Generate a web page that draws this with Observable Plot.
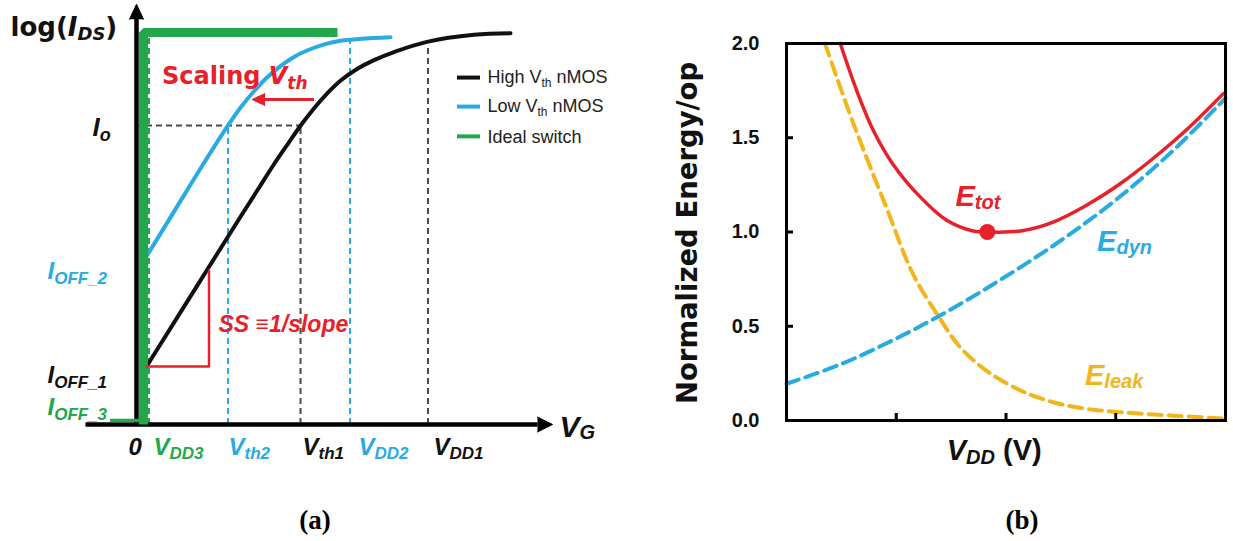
<!DOCTYPE html>
<html><head><meta charset="utf-8">
<script src="https://cdn.jsdelivr.net/npm/d3@7"></script>
<script src="https://cdn.jsdelivr.net/npm/@observablehq/plot@0.6"></script>
<style>
html,body{margin:0;padding:0;background:#fff;}
#wrap{position:relative;width:1233px;height:541px;overflow:hidden;background:#fff;}
#a{position:absolute;left:0;top:0;}
#b{position:absolute;left:620px;top:0;}
.cap{position:absolute;top:507px;font-family:"Liberation Serif","Times New Roman",serif;font-weight:bold;font-size:27px;line-height:27px;transform:translateX(-50%);color:#000;}
</style></head><body>
<div id="wrap"><div id="a"></div><div id="b"></div>
<div class="cap" style="left:315px">(a)</div><div class="cap" style="left:1022px">(b)</div></div>
<script>
// ---------- Panel (a): log(I_DS) vs V_G (schematic units) ----------
const highVthVG   = [0.07, 0.61, 1.27, 1.94, 2.30, 2.60, 2.90, 3.14, 3.40, 3.67, 3.95, 4.27, 4.60, 5.01, 5.67, 6.61, 7.34];
const highVthLogI = [1.50, 2.60, 3.94, 5.30, 6.02, 6.62, 7.18, 7.62, 8.05, 8.44, 8.78, 9.07, 9.29, 9.50, 9.76, 9.94, 9.98];
const lowVthVG    = [0.07, 0.61, 1.14, 1.69, 1.95, 2.21, 2.47, 2.74, 3.00, 3.27, 3.60, 3.94, 4.94];
const lowVthLogI  = [4.31, 5.43, 6.53, 7.63, 8.10, 8.50, 8.85, 9.14, 9.37, 9.54, 9.69, 9.79, 9.88];
const idealVG     = [0, 0, 3.88];
const idealLogI   = [0, 10, 10];
const ioffLevels  = [4.31, 1.48, 0.10];          // I_OFF_2, I_OFF_1, I_OFF_3
const ioLevel     = 7.63;                         // I_o
const guideNames  = ["VDD3", "Vth2", "Vth1", "VDD2", "VDD1"];
const guideVG     = [0.11, 1.69, 3.14, 4.13, 5.69];
const guideTop    = [9.88, 7.63, 7.63, 9.84, 9.59];
const legendNames = ["High Vth nMOS", "Low Vth nMOS", "Ideal switch"];

// ---------- Panel (b): normalized energy vs V_DD ----------
const vddTicks    = [1, 2, 3];
const energyTicks = [0, 0.5, 1.0, 1.5, 2.0];
const eDynV  = [0, 0.5, 1, 1.5, 2, 2.5, 3, 3.5, 4];
const eDyn   = [0.195, 0.30, 0.435, 0.59, 0.765, 0.955, 1.17, 1.42, 1.71];
const eLeakV = [0.35, 0.61, 0.91, 1.15, 1.38, 1.58, 1.82, 2.13, 2.43, 2.73, 3.04, 3.49, 3.98];
const eLeak  = [2.0, 1.575, 1.13, 0.78, 0.557, 0.39, 0.265, 0.16, 0.097, 0.062, 0.044, 0.027, 0.01];
const eTotV  = [0.49, 0.64, 0.79, 0.97, 1.22, 1.46, 1.70, 1.83, 2.13, 2.43, 2.73, 3.04, 3.34, 3.65, 3.98];
const eTot   = [2.0, 1.75, 1.54, 1.36, 1.185, 1.062, 1.005, 1.0, 1.005, 1.053, 1.141, 1.256, 1.39, 1.545, 1.734];
const optimumV = 1.83, optimumE = 1.0;

// ---------- styling ----------
const FONT = '"Liberation Sans", Arial, Helvetica, sans-serif';
const WIDE = '"DejaVu Sans", Verdana, sans-serif';
const BLACK = "#111", BLUE = "#29abe2", GREEN = "#22a84a", RED = "#e8202a", GOLD = "#f2b51c";

const zip = (xs, ys, kx, ky) => xs.map((v, i) => ({[kx]: v, [ky]: ys[i]}));
const ctx = document.createElement("canvas").getContext("2d");
function tw(t, size, italic, weight, family) {
  ctx.font = `${italic ? "italic " : ""}${weight} ${size}px ${family}`;
  return ctx.measureText(t).width;
}
function rich(x, y, parts, {fill = BLACK, weight = "bold", anchor = "start", subDy = 5, family = FONT} = {}) {
  const widths = parts.map(p => tw(p.t, p.size, p.italic, weight, family));
  let off = anchor === "middle" ? -d3.sum(widths) / 2 : 0;
  return parts.map((p, i) => {
    const m = Plot.text([{x, y}], {
      x: "x", y: "y", text: () => p.t, dx: off, dy: p.sub ? subDy : 0,
      textAnchor: "start", lineAnchor: "bottom", fontSize: p.size,
      fontStyle: p.italic ? "italic" : "normal", fontWeight: weight, fill, fontFamily: family
    });
    off += widths[i];
    return m;
  });
}
const P = (t, size, italic = false, sub = false) => ({t, size, italic, sub});

// arrow = shaft + filled head (spike vector when available)
const ver = String(Plot.version || "0.6.0").split(".").map(Number);
const hasSpike = ver[0] > 0 || ver[1] > 6 || (ver[1] === 6 && (ver[2] || 0) >= 2);
function arrow(seg, tip, rotate, color, sw, len, r) {
  if (hasSpike) return [
    Plot.link([seg], {x1: "x1", y1: "y1", x2: "x2", y2: "y2", stroke: color, strokeWidth: sw}),
    Plot.vector([tip], {x: "x", y: "y", length: len, r, rotate, anchor: "end", shape: "spike", fill: color, stroke: color, strokeWidth: 1})
  ];
  return [Plot.arrow([{x1: seg.x1, y1: seg.y1, x2: tip.x, y2: tip.y}], {x1: "x1", y1: "y1", x2: "x2", y2: "y2", stroke: color, strokeWidth: sw, headLength: 4, headAngle: 70})];
}

// ---------- Panel (a) ----------
const highVth = zip(highVthVG, highVthLogI, "vg", "logI");
const lowVth  = zip(lowVthVG, lowVthLogI, "vg", "logI");
const ideal   = zip(idealVG, idealLogI, "vg", "logI");
const guideColors = [GREEN, BLUE, "#4a4a4a", BLUE, "#4a4a4a"];
const guides = guideNames.map((n, i) => ({name: n, vg: guideVG[i], top: guideTop[i], color: guideColors[i]}));
const legendColors = [BLACK, BLUE, GREEN];
const legendRows = [8.85, 8.11, 7.35];
const legend = legendNames.map((n, i) => ({name: n, y: legendRows[i], color: legendColors[i]}));

const xLabY = -0.79;
const plotA = Plot.plot({
  width: 620, height: 480, margin: 0,
  x: {domain: [-2.86, 9.54], axis: null},
  y: {domain: [-1.4286, 10.816], axis: null},
  color: {type: "identity"},
  style: {fontFamily: FONT, background: "transparent", overflow: "visible"},
  marks: [
    Plot.ruleX(guides, {x: "vg", y1: 0, y2: "top", stroke: d => d.color, strokeWidth: 2, strokeDasharray: "6,4"}),
    Plot.ruleY([ioLevel], {y: d => d, x1: -0.14, x2: guideVG[2], stroke: "#4a4a4a", strokeWidth: 2, strokeDasharray: "6,4"}),
    Plot.line(lowVth, {x: "vg", y: "logI", stroke: BLUE, strokeWidth: 4, curve: "catmull-rom"}),
    Plot.line(highVth, {x: "vg", y: "logI", stroke: BLACK, strokeWidth: 4, curve: "catmull-rom"}),
    // axes
    ...arrow({x1: -0.14, y1: 0, x2: -0.14, y2: 10.36}, {x: -0.14, y: 10.72}, 0, "black", 4.5, 15, 7),
    ...arrow({x1: -1.16, y1: 0, x2: 7.88, y2: 0}, {x: 8.18, y: 0}, 90, "black", 4.5, 15, 7.5),
    // ideal switch
    Plot.ruleY([ioffLevels[2]], {y: d => d, x1: -0.66, x2: 0, stroke: GREEN, strokeWidth: 3.5}),
    Plot.line(ideal, {x: "vg", y: "logI", stroke: GREEN, strokeWidth: 9, strokeLinejoin: "miter", strokeLinecap: "butt"}),
    // SS triangle
    Plot.line([{vg: 0.07, v: ioffLevels[1]}, {vg: 1.31, v: ioffLevels[1]}, {vg: 1.31, v: 3.93}], {x: "vg", y: "v", stroke: RED, strokeWidth: 2.5}),
    // scaling arrow
    ...arrow({x1: 3.41, y1: 8.29, x2: 2.40, y2: 8.29}, {x: 2.17, y: 8.29}, -90, RED, 3, 13, 6),
    // legend
    Plot.ruleY(legend, {y: "y", x1: 6.28, x2: 6.74, stroke: d => d.color, strokeWidth: 4}),
    ...rich(6.88, 8.70, [P("High ", 18), P("V", 18), P("th", 12, false, true), P(" nMOS", 18)], {weight: "normal", fill: "#222", subDy: 4}),
    ...rich(6.88, 7.96, [P("Low ", 18), P("V", 18), P("th", 12, false, true), P(" nMOS", 18)], {weight: "normal", fill: "#222", subDy: 4}),
    ...rich(6.88, 7.17, [P("Ideal switch", 18)], {weight: "normal", fill: "#222"}),
    // y labels
    ...rich(-2.66, 9.92, [P("log(", 26), P("I", 26, true), P("DS", 18, true, true), P(")", 26)], {subDy: 4, family: WIDE}),
    ...rich(-1.02, 7.37, [P("I", 26, true), P("o", 18, true, true)]),
    ...rich(-1.92, 3.72, [P("I", 24, true), P("OFF_2", 17, true, true)], {fill: BLUE}),
    ...rich(-1.92, 1.05, [P("I", 24, true), P("OFF_1", 17, true, true)]),
    ...rich(-1.92, 0.23, [P("I", 24, true), P("OFF_3", 17, true, true)], {fill: GREEN}),
    // x labels
    ...rich(-0.30, xLabY, [P("0", 24, true)]),
    ...rich(0.20, xLabY, [P("V", 24, true), P("DD3", 17, true, true)], {fill: GREEN, subDy: 4}),
    ...rich(1.70, xLabY, [P("V", 24, true), P("th2", 17, true, true)], {fill: BLUE, subDy: 4}),
    ...rich(3.18, xLabY, [P("V", 24, true), P("th1", 17, true, true)], {subDy: 4}),
    ...rich(4.30, xLabY, [P("V", 24, true), P("DD2", 17, true, true)], {fill: BLUE, subDy: 4}),
    ...rich(5.80, xLabY, [P("V", 24, true), P("DD1", 17, true, true)], {subDy: 4}),
    ...rich(8.32, -0.33, [P("V", 30, true), P("G", 20, true, true)], {subDy: 2}),
    // annotations
    ...rich(0.37, 8.69, [P("Scaling ", 24), P("V", 24, true), P("th", 17, true, true)], {fill: RED, family: WIDE}),
    ...rich(1.50, 2.37, [P("SS \u22611/slope", 23, true)], {fill: RED})
  ]
});
document.getElementById("a").append(plotA);

// ---------- Panel (b) ----------
const dyn  = zip(eDynV, eDyn, "v", "e");
const leak = zip(eLeakV, eLeak, "v", "e");
const tot  = zip(eTotV, eTot, "v", "e");
const plotB = Plot.plot({
  width: 613, height: 480, marginLeft: 166, marginRight: 8, marginTop: 43, marginBottom: 60,
  x: {domain: [0, 4], axis: null},
  y: {domain: [0, 2], axis: null},
  style: {fontFamily: FONT, background: "transparent", overflow: "visible"},
  marks: [
    Plot.line(leak, {x: "v", y: "e", stroke: GOLD, strokeWidth: 4, strokeDasharray: "13,7", curve: "catmull-rom"}),
    Plot.line(dyn, {x: "v", y: "e", stroke: BLUE, strokeWidth: 4, strokeDasharray: "13,7", curve: "catmull-rom"}),
    Plot.line(tot, {x: "v", y: "e", stroke: RED, strokeWidth: 3.5, curve: "catmull-rom"}),
    Plot.dot([{v: optimumV, e: optimumE}], {x: "v", y: "e", r: 8, fill: RED}),
    Plot.frame({stroke: "black", strokeWidth: 3}),
    Plot.axisY(energyTicks, {tickSize: -7, strokeWidth: 3, tickFormat: () => "", label: null}),
    Plot.axisX(vddTicks, {tickSize: -7, strokeWidth: 3, tickFormat: () => "", label: null}),
    Plot.text(energyTicks, {x: 0, y: d => d, text: d => d.toFixed(1), dx: -27, textAnchor: "end", fontSize: 20, fontWeight: "bold", fill: BLACK, fontFamily: FONT}),
    Plot.text([0], {x: -0.893, y: 0.995, text: () => "Normalized Energy/op", rotate: -90, textAnchor: "middle", lineAnchor: "middle", fontSize: 27.5, fontWeight: "bold", fill: BLACK, fontFamily: WIDE}),
    ...rich(1.46, -0.21, [P("V", 29, true), P("DD", 20, true, true), P(" (V)", 29)], {subDy: 4}),
    ...rich(1.54, 1.14, [P("E", 29, true), P("tot", 20, true, true)], {fill: RED, subDy: 3}),
    ...rich(2.83, 0.90, [P("E", 29, true), P("dyn", 20, true, true)], {fill: BLUE, subDy: 3}),
    ...rich(2.72, 0.186, [P("E", 29, true), P("leak", 20, true, true)], {fill: GOLD, subDy: 3})
  ]
});
document.getElementById("b").append(plotB);
</script></body></html>
